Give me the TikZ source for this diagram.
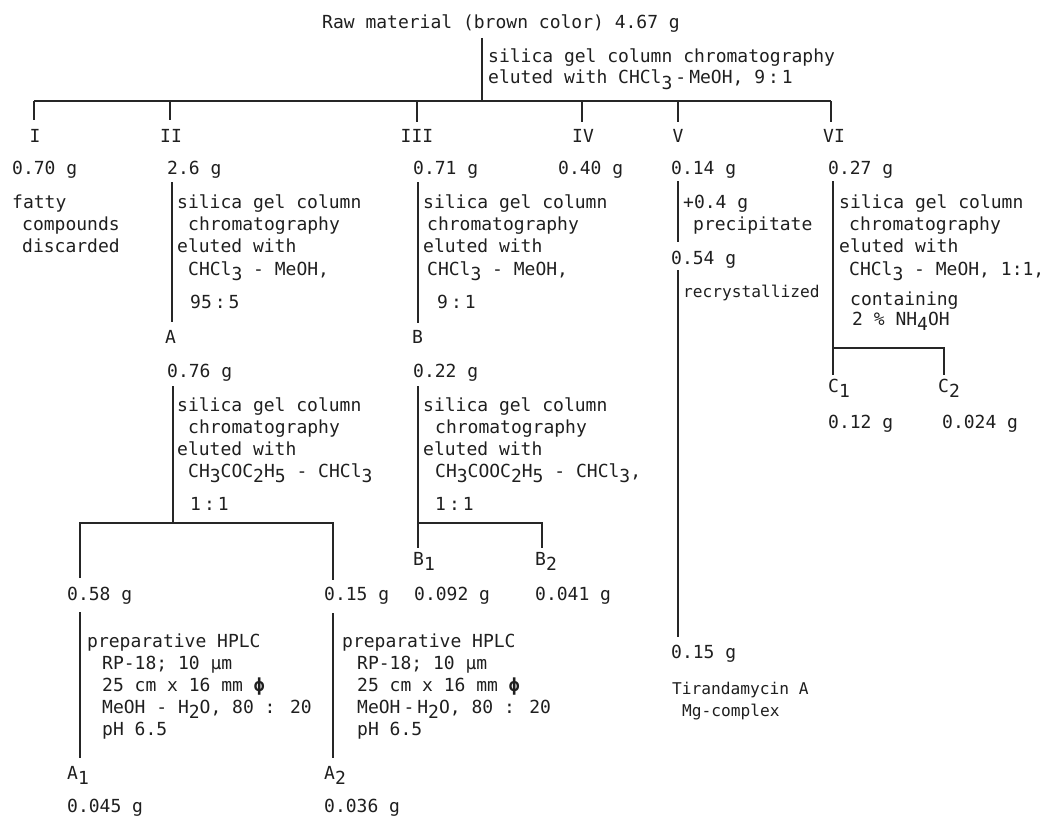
\documentclass[tikz,border=0pt]{standalone}
\usepackage{fontspec}
\setmainfont{DejaVu Sans Mono}
\newcommand\lowr[1]{\raisebox{-5.5pt}{#1}}
\begin{document}
\begin{tikzpicture}[x=1pt,y=-1pt,
  t/.style={anchor=base west,inner sep=0pt,text=black!88,font=\fontsize{18}{22}\selectfont},
  tn/.style={t,font=\fontsize{16.2}{22}\selectfont},
  tc/.style={anchor=base,inner sep=0pt,text=black!88,font=\fontsize{18}{22}\selectfont},
  ln/.style={line width=1.7pt,draw=black!85}]
\useasboundingbox (0,0) rectangle (1058,816);
% ---------- top ----------
\node[t] (raw) at (322,29) {Raw material (brown color) 4.67 g};
\coordinate (r0) at (482,38);
\coordinate (r1) at (482,101);
\node[t] (s0a) at (488,63) {silica gel column chromatography};
\node[t] (s0b) at (488,84) {eluted with CHCl\lowr{3}\,-\,MeOH, 9\,:\,1};
\coordinate (bL) at (34,101);
\coordinate (bR) at (831,101);
\draw[ln] (r0) -- (r1);
\draw[ln] (bL) -- (bR);
\coordinate (k1) at (34,120); \coordinate (k2) at (170,120);
\coordinate (k3) at (417,122); \coordinate (k4) at (582,122);
\coordinate (k5) at (678,122); \coordinate (k6) at (831,122);
\draw[ln] (bL) -- (k1);
\draw[ln] (k2 |- bL) -- (k2);
\draw[ln] (k3 |- bL) -- (k3);
\draw[ln] (k4 |- bL) -- (k4);
\draw[ln] (k5 |- bL) -- (k5);
\draw[ln] (bR) -- (k6);
% roman numerals
\node[tc] (n1) at (35,142) {I};
\node[tc] (n2) at (171,142) {II};
\node[tc] (n3) at (417,142) {III};
\node[tc] (n4) at (583,142) {IV};
\node[tc] (n5) at (678,142) {V};
\node[tc] (n6) at (834,142) {VI};
% masses
\node[t] (m1) at (12,174) {0.70 g};
\node[t] (m2) at (167,174) {2.6 g};
\node[t] (m3) at (413,174) {0.71 g};
\node[t] (m4) at (558,174) {0.40 g};
\node[t] (m5) at (671,174) {0.14 g};
\node[t] (m6) at (828,174) {0.27 g};
% ---------- column I ----------
\node[t] (f1) at (12,208) {fatty};
\node[t] (f2) at (22,230) {compounds};
\node[t] (f3) at (22,252) {discarded};
% ---------- column II ----------
\coordinate (v2a) at (172,182); \coordinate (v2b) at (172,322);
\draw[ln] (v2a) -- (v2b);
\node[t] (c2a) at (177,208) {silica gel column};
\node[t] (c2b) at (188,230) {chromatography};
\node[t] (c2c) at (177,252) {eluted with};
\node[t] (c2d) at (188,275) {CHCl\lowr{3} - MeOH,};
\node[t] (c2e) at (190,308) {95\,:\,5};
\node[t] (A) at (165,343) {A};
\node[t] (mA) at (167,377) {0.76 g};
\coordinate (vAa) at (173,386); \coordinate (vAb) at (173,523);
\draw[ln] (vAa) -- (vAb);
\node[t] (cAa) at (177,411) {silica gel column};
\node[t] (cAb) at (188,433) {chromatography};
\node[t] (cAc) at (177,455) {eluted with};
\node[t] (cAd) at (188,477) {CH\lowr{3}COC\lowr{2}H\lowr{5} - CHCl\lowr{3}};
\node[t] (cAe) at (190,510) {1\,:\,1};
\coordinate (hAL) at (80,523); \coordinate (hAR) at (333,523);
\coordinate (dAL) at (80,578); \coordinate (dAR) at (333,580);
\draw[ln] (dAL) -- (hAL) -- (hAR) -- (dAR);
\node[t] (mA1) at (67,600) {0.58 g};
\node[t] (mA2) at (324,600) {0.15 g};
% HPLC left
\coordinate (pLa) at (80,612); \coordinate (pLb) at (80,758);
\draw[ln] (pLa) -- (pLb);
\node[t] (pL1) at (87,647) {preparative HPLC};
\node[t] (pL2) at (102,669) {RP-18; 10 µm};
\node[t] (pL3) at (102,691) {25 cm x 16 mm \textbf{ϕ}};
\node[t] (pL4) at (102,713) {MeOH - H\lowr{2}O, 80 : 20};
\node[t] (pL5) at (102,735) {pH 6.5};
\node[t] (A1) at (67,779) {A\lowr{1}};
\node[t] (mA1f) at (67,812) {0.045 g};
% HPLC right
\coordinate (pRa) at (333,613); \coordinate (pRb) at (333,758);
\draw[ln] (pRa) -- (pRb);
\node[t] (pR1) at (342,647) {preparative HPLC};
\node[t] (pR2) at (357,669) {RP-18; 10 µm};
\node[t] (pR3) at (357,691) {25 cm x 16 mm \textbf{ϕ}};
\node[t] (pR4) at (357,713) {MeOH\,-\,H\lowr{2}O, 80 : 20};
\node[t] (pR5) at (357,735) {pH 6.5};
\node[t] (A2) at (324,779) {A\lowr{2}};
\node[t] (mA2f) at (324,812) {0.036 g};
% ---------- column III ----------
\coordinate (v3a) at (418,182); \coordinate (v3b) at (418,323);
\draw[ln] (v3a) -- (v3b);
\node[t] (c3a) at (423,208) {silica gel column};
\node[t] (c3b) at (427,230) {chromatography};
\node[t] (c3c) at (423,252) {eluted with};
\node[t] (c3d) at (427,275) {CHCl\lowr{3} - MeOH,};
\node[t] (c3e) at (437,308) {9\,:\,1};
\node[t] (B) at (412,343) {B};
\node[t] (mB) at (413,377) {0.22 g};
\coordinate (vBa) at (418,386); \coordinate (vBb) at (418,548);
\draw[ln] (vBa) -- (vBb);
\node[t] (cBa) at (423,411) {silica gel column};
\node[t] (cBb) at (435,433) {chromatography};
\node[t] (cBc) at (423,455) {eluted with};
\node[t] (cBd) at (435,477) {CH\lowr{3}COOC\lowr{2}H\lowr{5} - CHCl\lowr{3},};
\node[t] (cBe) at (435,510) {1\,:\,1};
\coordinate (hBL) at (418,523); \coordinate (hBR) at (542,523);
\coordinate (dBR) at (542,548);
\draw[ln] (hBL) -- (hBR) -- (dBR);
\node[t] (B1) at (413,565) {B\lowr{1}};
\node[t] (B2) at (535,565) {B\lowr{2}};
\node[t] (mB1) at (414,600) {0.092 g};
\node[t] (mB2) at (535,600) {0.041 g};
% ---------- column V ----------
\coordinate (v5a) at (678,181); \coordinate (v5b) at (678,242);
\draw[ln] (v5a) -- (v5b);
\node[t] (p5a) at (683,208) {+0.4 g};
\node[t] (p5b) at (693,230) {precipitate};
\node[t] (m5b) at (671,264) {0.54 g};
\coordinate (v5c) at (678,270); \coordinate (v5d) at (678,637);
\draw[ln] (v5c) -- (v5d);
\node[tn] (r5) at (683,297) {recrystallized};
\node[t] (m5c) at (671,658) {0.15 g};
\node[tn] (tir) at (672,694) {Tirandamycin A};
\node[tn] (mg) at (682,716) {Mg-complex};
% ---------- column VI ----------
\coordinate (v6a) at (833,181); \coordinate (v6b) at (833,375);
\draw[ln] (v6a) -- (v6b);
\node[t] (c6a) at (839,208) {silica gel column};
\node[t] (c6b) at (849,230) {chromatography};
\node[t] (c6c) at (839,252) {eluted with};
\node[t] (c6d) at (849,275) {CHCl\lowr{3} - MeOH, 1:1,};
\node[t] (c6e) at (850,305) {containing};
\node[t] (c6f) at (852,325) {2 \% NH\lowr{4}OH};
\coordinate (hCL) at (833,348); \coordinate (hCR) at (944,348);
\coordinate (dCR) at (944,375);
\draw[ln] (hCL) -- (hCR) -- (dCR);
\node[t] (C1) at (828,392) {C\lowr{1}};
\node[t] (C2) at (938,392) {C\lowr{2}};
\node[t] (mC1) at (828,428) {0.12 g};
\node[t] (mC2) at (942,428) {0.024 g};
\end{tikzpicture}
\end{document}
